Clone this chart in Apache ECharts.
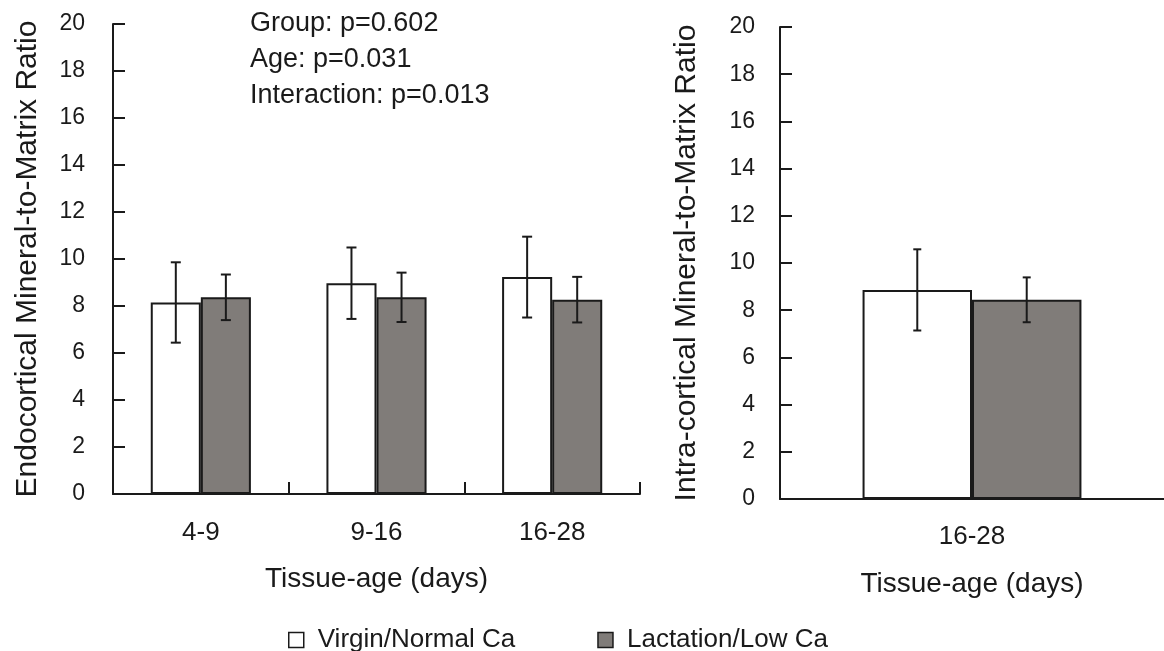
<!DOCTYPE html>
<html>
<head>
<meta charset="utf-8">
<script src="https://cdn.jsdelivr.net/npm/echarts@6/dist/echarts.min.js"></script>
<style>
    html, body { margin: 0; padding: 0; background: #fff; }
    #main { width: 1164px; height: 651px; }
</style>
</head>
<body>
<div id="main"></div>
<script>
var categories = ['4-9', '9-16', '16-28'];
var virgin = [8.15, 8.97, 9.23];
var virginErr = [1.71, 1.52, 1.72];
var lactation = [8.37, 8.37, 8.27];
var lactationErr = [0.97, 1.05, 0.97];

var intraCategories = ['16-28'];
var intraVirgin = [8.86];
var intraVirginErr = [1.72];
var intraLactation = [8.44];
var intraLactationErr = [0.95];

var yTicks = ['0', '2', '4', '6', '8', '10', '12', '14', '16', '18', '20'];
var stats = ['Group: p=0.602', 'Age: p=0.031', 'Interaction: p=0.013'];

var chart = echarts.init(document.getElementById('main'));
var font = "'Liberation Sans', Arial, sans-serif";
var ink = '#1a1a1a';

function errData(vals, errs) {
    var out = [];
    for (var i = 0; i < vals.length; i++) {
        out.push([i, vals[i] - errs[i], vals[i] + errs[i]]);
    }
    return out;
}

// error bars sit on the bar centres: +-0.1425 of the band
function errRender(shift, cap) {
    return function (params, api) {
        var band = api.size([1, 0])[0];
        var lo = api.coord([api.value(0), api.value(1)]);
        var hi = api.coord([api.value(0), api.value(2)]);
        var x = lo[0] + band * shift;
        var st = { stroke: ink, lineWidth: 2 };
        return {
            type: 'group',
            children: [
                { type: 'line', shape: { x1: x, y1: lo[1], x2: x, y2: hi[1] }, style: st },
                { type: 'line', shape: { x1: x - cap, y1: lo[1], x2: x + cap, y2: lo[1] }, style: st },
                { type: 'line', shape: { x1: x - cap, y1: hi[1], x2: x + cap, y2: hi[1] }, style: st }
            ]
        };
    };
}

function yAxis(idx, name, gap, margin) {
    return {
        type: 'value',
        gridIndex: idx,
        min: 0,
        max: 20,
        interval: 2,
        name: name,
        nameLocation: 'middle',
        nameGap: gap,
        nameTextStyle: { fontFamily: font, fontSize: 30, color: ink },
        axisLine: { show: true, lineStyle: { color: ink, width: 2 } },
        axisTick: { show: true, inside: true, length: 12, lineStyle: { color: ink, width: 2 } },
        axisLabel: {
            margin: margin, fontFamily: font, fontSize: 23, color: ink,
            formatter: function (v) { return yTicks[v / 2]; }
        },
        splitLine: { show: false }
    };
}

function xAxis(idx, cats, gap, margin, showTick) {
    return {
        type: 'category',
        gridIndex: idx,
        data: cats,
        name: 'Tissue-age (days)',
        nameLocation: 'middle',
        nameGap: gap,
        nameTextStyle: { fontFamily: font, fontSize: 28, color: ink },
        axisLine: { lineStyle: { color: ink, width: 2 } },
        axisTick: { show: showTick, inside: true, length: 12, lineStyle: { color: ink, width: 2 } },
        axisLabel: { margin: margin, fontFamily: font, fontSize: 26, color: ink }
    };
}

var barBase = {
    type: 'bar',
    barGap: '0%',
    barCategoryGap: '43%'
};

option = {
    animation: false,
    backgroundColor: '#fff',
    grid: [
        { left: 113, right: 524, top: 24, bottom: 157 },
        { left: 780, right: 0, top: 27, bottom: 152 }
    ],
    xAxis: [
        xAxis(0, categories, 71, 26, true),
        xAxis(1, intraCategories, 71, 25, false)
    ],
    yAxis: [
        yAxis(0, 'Endocortical Mineral-to-Matrix Ratio', 70, 28),
        yAxis(1, 'Intra-cortical Mineral-to-Matrix Ratio', 78, 25)
    ],
    legend: {
        data: ['Virgin/Normal Ca', 'Lactation/Low Ca'],
        icon: 'rect',
        left: 283,
        top: 622,
        itemWidth: 15,
        itemHeight: 15,
        itemGap: 82,
        itemStyle: { borderWidth: 1.5 },
        textStyle: { fontFamily: font, fontSize: 26, color: ink, padding: [0, 0, 0, 9] }
    },
    graphic: [
        {
            type: 'text', left: 250, top: 6,
            style: { text: stats.join('\n'), fontFamily: font, fontSize: 27, lineHeight: 36, fill: ink }
        }
    ],
    series: [
        Object.assign({}, barBase, {
            name: 'Virgin/Normal Ca', xAxisIndex: 0, yAxisIndex: 0, data: virgin,
            itemStyle: { color: '#ffffff', borderColor: ink, borderWidth: 2 }
        }),
        Object.assign({}, barBase, {
            name: 'Lactation/Low Ca', xAxisIndex: 0, yAxisIndex: 0, data: lactation,
            itemStyle: { color: '#807c79', borderColor: ink, borderWidth: 2 }
        }),
        Object.assign({}, barBase, {
            name: 'Virgin/Normal Ca', xAxisIndex: 1, yAxisIndex: 1, data: intraVirgin,
            itemStyle: { color: '#ffffff', borderColor: ink, borderWidth: 2 }
        }),
        Object.assign({}, barBase, {
            name: 'Lactation/Low Ca', xAxisIndex: 1, yAxisIndex: 1, data: intraLactation,
            itemStyle: { color: '#807c79', borderColor: ink, borderWidth: 2 }
        }),
        {
            type: 'custom', xAxisIndex: 0, yAxisIndex: 0, z: 5,
            renderItem: errRender(-0.1425, 5), data: errData(virgin, virginErr)
        },
        {
            type: 'custom', xAxisIndex: 0, yAxisIndex: 0, z: 5,
            renderItem: errRender(0.1425, 5), data: errData(lactation, lactationErr)
        },
        {
            type: 'custom', xAxisIndex: 1, yAxisIndex: 1, z: 5,
            renderItem: errRender(-0.1425, 4), data: errData(intraVirgin, intraVirginErr)
        },
        {
            type: 'custom', xAxisIndex: 1, yAxisIndex: 1, z: 5,
            renderItem: errRender(0.1425, 4), data: errData(intraLactation, intraLactationErr)
        }
    ]
};

chart.setOption(option);
</script>
</body>
</html>
